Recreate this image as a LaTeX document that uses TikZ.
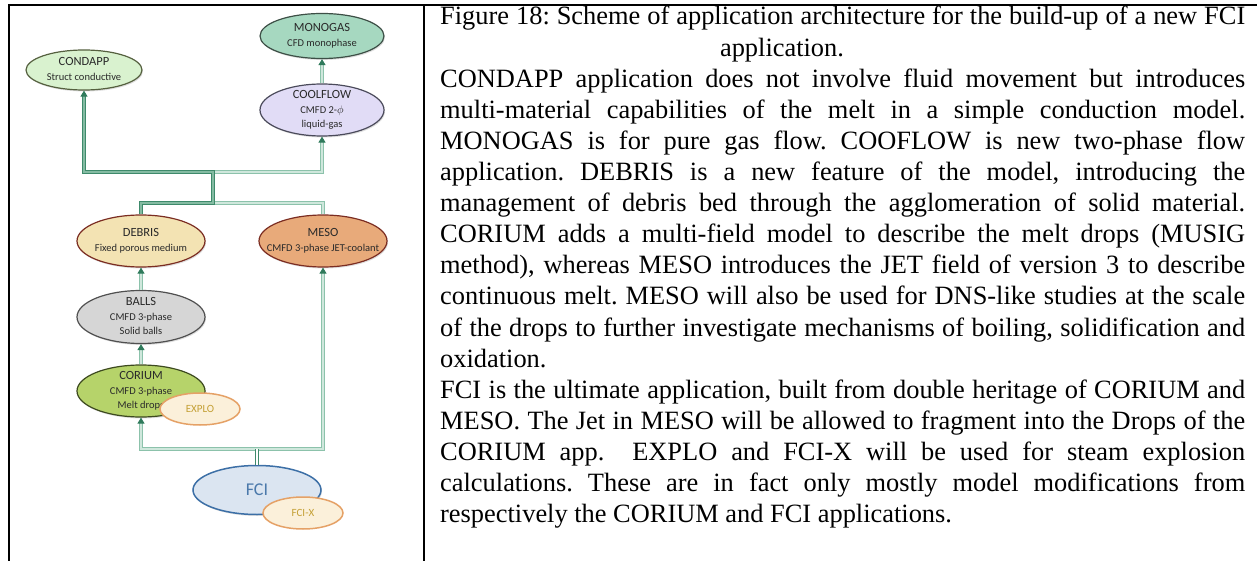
\documentclass[tikz,border=0pt]{standalone}
\usepackage{fontspec}
\setmainfont{Liberation Serif}
\newfontfamily\diafont{Carlito}
\usetikzlibrary{shapes.geometric,arrows.meta,shadows}
\frenchspacing
\definecolor{tipc}{HTML}{2F7A5B}
\definecolor{darkln}{HTML}{3E8A6B}
\definecolor{darkin}{HTML}{84BBA2}
\definecolor{lightln}{HTML}{8CC2AB}
\definecolor{lightin}{HTML}{CFE7DC}
\definecolor{condF}{HTML}{D9F2CF}\definecolor{condD}{HTML}{55603F}
\definecolor{monoF}{HTML}{A6D8C0}\definecolor{monoD}{HTML}{3D4F46}
\definecolor{coolF}{HTML}{E1DCF6}\definecolor{coolD}{HTML}{4A4A5A}
\definecolor{debF}{HTML}{F3E3B3}\definecolor{redD}{HTML}{7B2D22}
\definecolor{mesoF}{HTML}{E8AA7A}
\definecolor{ballF}{HTML}{D6D6D6}\definecolor{ballD}{HTML}{505050}
\definecolor{corF}{HTML}{B6D36A}\definecolor{corD}{HTML}{3D4A1F}
\definecolor{expF}{HTML}{FBF0DA}\definecolor{expD}{HTML}{E5A166}\definecolor{expT}{HTML}{C4A035}
\definecolor{fciF}{HTML}{DBE5F1}\definecolor{fciD}{HTML}{3C6FA6}\definecolor{fciT}{HTML}{4B79AB}
\definecolor{txtD}{HTML}{2A2A2A}
\newcommand\elab[1]{\makebox[0pt]{\smash{\raisebox{-3pt}{\begin{tabular}{@{}c@{}}#1\end{tabular}}}}}
\newcommand\ttl[1]{{\fontsize{12.5}{14}\selectfont #1}}
\begin{document}
\begin{tikzpicture}[x=1pt,y=-1pt,
  app/.style={ellipse, line width=1.2pt, inner sep=0pt, minimum width=128, minimum height=52,
     font=\diafont\fontsize{10.5}{14.5}\selectfont, text=txtD,
     drop shadow={shadow xshift=1pt, shadow yshift=-1.5pt, opacity=0.25}},
  small/.style={ellipse, line width=1.5pt, inner sep=0pt, minimum width=80, minimum height=32,
     fill=expF, draw=expD, text=expT, font=\diafont\fontsize{11}{12}\selectfont},
  darkc/.style={draw=darkln, double=darkin, line width=1.1pt, double distance=1.2pt},
  lightc/.style={draw=lightln, double=lightin, line width=1pt, double distance=1.2pt},
  fcic/.style={draw=darkln, double=white, line width=0.9pt, double distance=1.5pt},
  arr/.style={-{Triangle[length=6pt,width=7pt,color=tipc]}},
  jline/.style={anchor=base west, inner sep=0pt, font=\fontsize{26.4}{26.4}\selectfont}]
\useasboundingbox (0,0) rectangle (1257,561);
% frame
\draw[line width=2pt] (8,5) -- (1257,5);
\draw[line width=2pt] (9,5) -- (9,561);
\draw[line width=2pt] (424,5) -- (424,561);
% nodes
\node[app, fill=condF, draw=condD, minimum width=116, minimum height=40] (condapp) at (84,70)
  {\elab{\ttl{CONDAPP}\\Struct conductive}};
\node[app, fill=monoF, draw=monoD, minimum width=124, minimum height=45] (monogas) at (322,36)
  {\elab{\ttl{MONOGAS}\\CFD monophase}};
\node[app, fill=coolF, draw=coolD, minimum width=124, minimum height=52] (coolflow) at (322,110)
  {\elab{\ttl{COOLFLOW}\\CMFD 2-$\phi$\\liquid-gas}};
\node[app, fill=debF, draw=redD] (debris) at (141,241)
  {\elab{\ttl{DEBRIS}\\Fixed porous medium}};
\node[app, fill=mesoF, draw=redD] (meso) at (323,241)
  {\elab{\ttl{MESO}\\CMFD 3-phase JET-coolant}};
\node[app, fill=ballF, draw=ballD, minimum height=53] (balls) at (141,317)
  {\elab{\ttl{BALLS}\\CMFD 3-phase\\Solid balls}};
\node[app, fill=corF, draw=corD] (corium) at (141,391)
  {\elab{\ttl{CORIUM}\\CMFD 3-phase\\Melt drops}};
\node[small] (explo) at (200,409) {EXPLO};
\node[app, fill=fciF, draw=fciD, line width=1.5pt, minimum height=49, text=fciT,
  font=\diafont\fontsize{18}{20}\selectfont] (fci) at (257,490) {FCI};
\node[small] (fcix) at (303,513) {FCI-X};
% connectors
\coordinate (j1) at (213,203);
\coordinate (j2) at (213,172);
\coordinate (j3) at (257,449);
\draw[lightc, arr] (coolflow.north) -- (monogas.south);
\draw[lightc] (meso.north) |- (j1);
\draw[lightc, arr] (j2) -| (coolflow.south);
\draw[darkc, arr] (debris.north) |- (j1) -- (j2) -| (condapp.south);
\draw[lightc, arr] (balls.north) -- (debris.south);
\draw[lightc, arr] (corium.north) -- (balls.south);
\draw[lightc, arr] (j3) -| (corium.south);
\draw[lightc, arr] (j3) -| (meso.south);
\draw[fcic] (fci.north) -- (j3);
% text
\node[jline] (t1) at (440,25.0) {\hbox to 805pt{Figure 18: Scheme of application architecture for the build-up of a new FCI}};
\node[jline, anchor=base] (t2) at (782,56.1) {application.};
\node[jline] (t3) at (440,87.2) {\hbox to 805pt{CONDAPP application does not involve fluid movement but introduces}};
\node[jline] (t4) at (440,118.3) {\hbox to 805pt{multi-material capabilities of the melt in a simple conduction model.}};
\node[jline] (t5) at (440,149.4) {\hbox to 805pt{MONOGAS is for pure gas flow. COOFLOW is new two-phase flow}};
\node[jline] (t6) at (440,180.5) {\hbox to 805pt{application. DEBRIS is a new feature of the model, introducing the}};
\node[jline] (t7) at (440,211.6) {\hbox to 805pt{management of debris bed through the agglomeration of solid material.}};
\node[jline] (t8) at (440,242.7) {\hbox to 805pt{CORIUM adds a multi-field model to describe the melt drops (MUSIG}};
\node[jline] (t9) at (440,273.8) {\hbox to 805pt{method), whereas MESO introduces the JET field of version 3 to describe}};
\node[jline] (t10) at (440,304.9) {\hbox to 805pt{continuous melt. MESO will also be used for DNS-like studies at the scale}};
\node[jline] (t11) at (440,336.0) {\hbox to 805pt{of the drops to further investigate mechanisms of boiling, solidification and}};
\node[jline] (t12) at (440,367.1) {oxidation.};
\node[jline] (t13) at (440,398.2) {\hbox to 805pt{FCI is the ultimate application, built from double heritage of CORIUM and}};
\node[jline] (t14) at (440,429.3) {\hbox to 805pt{MESO. The Jet in MESO will be allowed to fragment into the Drops of the}};
\node[jline] (t15) at (440,460.4) {\hbox to 805pt{CORIUM app.\ \ EXPLO and FCI-X will be used for steam explosion}};
\node[jline] (t16) at (440,491.5) {\hbox to 805pt{calculations. These are in fact only mostly model modifications from}};
\node[jline] (t17) at (440,522.6) {respectively the CORIUM and FCI applications.};
\end{tikzpicture}
\end{document}
